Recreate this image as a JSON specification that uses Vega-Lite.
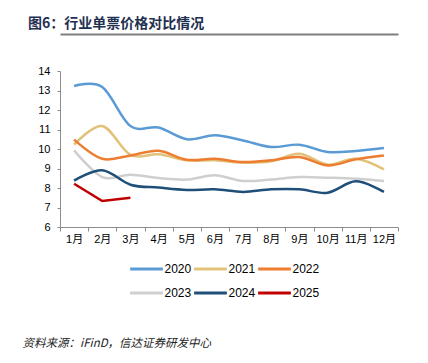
{
  "$schema": "https://vega.github.io/schema/vega-lite/v6.json",
  "width": 338,
  "height": 156,
  "autosize": {"type": "none"},
  "padding": {"left": 60, "top": 71, "right": 30, "bottom": 136},
  "background": "white",
  "title": {
    "text": "图6：行业单票价格对比情况",
    "anchor": "start",
    "frame": "group",
    "dx": -32,
    "offset": 3,
    "fontSize": 14,
    "font": "Noto Sans CJK SC",
    "fontWeight": "bold",
    "color": "#1F3050"
  },
  "config": {
    "view": {"stroke": null},
    "axis": {"labelFont": "Liberation Sans, Noto Sans CJK SC", "labelColor": "#000000", "labelFontSize": 11, "domainColor": "#8C8C8C", "tickColor": "#8C8C8C", "grid": false}
  },
  "data": {
    "values": [
      {"year": "2020", "month": "1月", "value": 13.23},
      {"year": "2020", "month": "2月", "value": 13.18},
      {"year": "2020", "month": "3月", "value": 11.18},
      {"year": "2020", "month": "4月", "value": 11.1},
      {"year": "2020", "month": "5月", "value": 10.5},
      {"year": "2020", "month": "6月", "value": 10.7},
      {"year": "2020", "month": "7月", "value": 10.44},
      {"year": "2020", "month": "8月", "value": 10.1},
      {"year": "2020", "month": "9月", "value": 10.22},
      {"year": "2020", "month": "10月", "value": 9.85},
      {"year": "2020", "month": "11月", "value": 9.9},
      {"year": "2020", "month": "12月", "value": 10.05},
      {"year": "2021", "month": "1月", "value": 10.22},
      {"year": "2021", "month": "2月", "value": 11.18},
      {"year": "2021", "month": "3月", "value": 9.7},
      {"year": "2021", "month": "4月", "value": 9.73},
      {"year": "2021", "month": "5月", "value": 9.42},
      {"year": "2021", "month": "6月", "value": 9.42},
      {"year": "2021", "month": "7月", "value": 9.3},
      {"year": "2021", "month": "8月", "value": 9.37},
      {"year": "2021", "month": "9月", "value": 9.76},
      {"year": "2021", "month": "10月", "value": 9.2},
      {"year": "2021", "month": "11月", "value": 9.5},
      {"year": "2021", "month": "12月", "value": 8.96},
      {"year": "2022", "month": "1月", "value": 10.48},
      {"year": "2022", "month": "2月", "value": 9.5},
      {"year": "2022", "month": "3月", "value": 9.67},
      {"year": "2022", "month": "4月", "value": 9.91},
      {"year": "2022", "month": "5月", "value": 9.45},
      {"year": "2022", "month": "6月", "value": 9.5},
      {"year": "2022", "month": "7月", "value": 9.33},
      {"year": "2022", "month": "8月", "value": 9.42},
      {"year": "2022", "month": "9月", "value": 9.59},
      {"year": "2022", "month": "10月", "value": 9.16},
      {"year": "2022", "month": "11月", "value": 9.47},
      {"year": "2022", "month": "12月", "value": 9.67},
      {"year": "2023", "month": "1月", "value": 9.93},
      {"year": "2023", "month": "2月", "value": 8.56},
      {"year": "2023", "month": "3月", "value": 8.68},
      {"year": "2023", "month": "4月", "value": 8.51},
      {"year": "2023", "month": "5月", "value": 8.43},
      {"year": "2023", "month": "6月", "value": 8.65},
      {"year": "2023", "month": "7月", "value": 8.36},
      {"year": "2023", "month": "8月", "value": 8.44},
      {"year": "2023", "month": "9月", "value": 8.56},
      {"year": "2023", "month": "10月", "value": 8.53},
      {"year": "2023", "month": "11月", "value": 8.48},
      {"year": "2023", "month": "12月", "value": 8.36},
      {"year": "2024", "month": "1月", "value": 8.38},
      {"year": "2024", "month": "2月", "value": 8.91},
      {"year": "2024", "month": "3月", "value": 8.17},
      {"year": "2024", "month": "4月", "value": 8.02},
      {"year": "2024", "month": "5月", "value": 7.9},
      {"year": "2024", "month": "6月", "value": 7.93},
      {"year": "2024", "month": "7月", "value": 7.8},
      {"year": "2024", "month": "8月", "value": 7.93},
      {"year": "2024", "month": "9月", "value": 7.93},
      {"year": "2024", "month": "10月", "value": 7.76},
      {"year": "2024", "month": "11月", "value": 8.34},
      {"year": "2024", "month": "12月", "value": 7.8},
      {"year": "2025", "month": "1月", "value": 8.22},
      {"year": "2025", "month": "2月", "value": 7.33},
      {"year": "2025", "month": "3月", "value": 7.5}
    ]
  },
  "encoding": {
    "y": {
      "field": "value",
      "type": "quantitative",
      "scale": {"domain": [6, 14], "nice": false, "zero": false},
      "axis": {"values": [6, 7, 8, 9, 10, 11, 12, 13, 14], "tickSize": 3, "labelPadding": 7, "title": null}
    },
    "color": {
      "field": "year",
      "type": "nominal",
      "scale": {
        "domain": ["2020", "2021", "2022", "2023", "2024", "2025"],
        "range": ["#5B9BD5", "#E2C27A", "#ED7D31", "#CFCFCF", "#1F4E79", "#C00000"]
      },
      "legend": {
        "orient": "none",
        "legendX": 68.5,
        "legendY": 180,
        "columns": 3,
        "direction": "horizontal",
        "title": null,
        "symbolType": "stroke",
        "symbolSize": 1070,
        "symbolStrokeWidth": 3,
        "labelFont": "Liberation Sans",
        "labelFontSize": 12,
        "labelColor": "#000000",
        "labelOffset": 0,
        "columnPadding": -4,
        "rowPadding": -13,
        "padding": 0
      }
    }
  },
  "resolve": {"axis": {"x": "independent"}},
  "layer": [
    {
      "transform": [{"filter": "datum.year != '2025'"}],
      "mark": {"type": "line", "interpolate": "cardinal", "strokeWidth": 2.5},
      "encoding": {
        "x": {
          "field": "month",
          "type": "ordinal",
          "sort": ["1月", "2月", "3月", "4月", "5月", "6月", "7月", "8月", "9月", "10月", "11月", "12月"],
          "scale": {"type": "band", "paddingInner": 0, "paddingOuter": 0},
          "axis": {
            "tickBand": "extent",
            "labelAngle": 0,
            "tickSize": 4,
            "labelPadding": 2,
            "title": "资料来源：iFinD，信达证券研发中心",
            "titleFont": "Noto Sans CJK SC",
            "titleFontStyle": "italic",
            "titleFontWeight": "normal",
            "titleFontSize": 11.5,
            "titleColor": "#222222",
            "titleAnchor": "start",
            "titleAlign": "left",
            "titleBaseline": "middle",
            "titleX": -38,
            "titleY": 116
          }
        }
      }
    },
    {
      "transform": [{"filter": "datum.year == '2025'"}],
      "mark": {"type": "line", "strokeWidth": 2.5},
      "encoding": {
        "x": {
          "field": "month",
          "type": "ordinal",
          "sort": ["1月", "2月", "3月", "4月", "5月", "6月", "7月", "8月", "9月", "10月", "11月", "12月"],
          "axis": {
            "orient": "top",
            "offset": 37,
            "labels": false,
            "ticks": false,
            "title": null,
            "domainColor": "#7F7F7F",
            "domainWidth": 2
          }
        }
      }
    }
  ]
}
